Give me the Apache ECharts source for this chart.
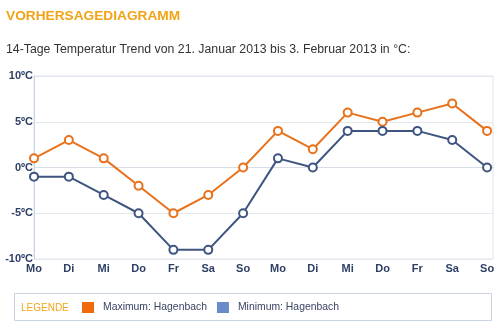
<!DOCTYPE html>
<html>
<head>
<meta charset="utf-8">
<script src="https://cdn.jsdelivr.net/npm/echarts@6/dist/echarts.min.js"></script>
<style>
html,body{margin:0;padding:0;background:#fff;}
#chart{width:500px;height:324px;}
</style>
</head>
<body>
<div id="chart"></div>
<script>
// 14-day forecast: daily max / min temperatures (°C)
const dayLabels = ['Mo','Di','Mi','Do','Fr','Sa','So','Mo','Di','Mi','Do','Fr','Sa','So'];
const maxTemps = [1, 3, 1, -2, -5, -3, 0, 4, 2, 6, 5, 6, 7, 4];
const minTemps = [-1, -1, -3, -5, -9, -9, -5, 1, 0, 4, 4, 4, 3, 0];
const yTicks = [-10, -5, 0, 5, 10];

const FONT = '"Liberation Sans", Arial, sans-serif';
const ORANGE = '#e8721c';
const NAVY = '#3e5580';

const chart = echarts.init(document.getElementById('chart'), null, {renderer: 'canvas'});

const toPairs = arr => arr.map((v, i) => [i, v]);

chart.setOption({
  animation: false,
  backgroundColor: '#fff',
  textStyle: {fontFamily: FONT},
  title: [{
    text: 'VORHERSAGEDIAGRAMM',
    left: 1, top: 4,
    textStyle: {fontSize: 13.7, fontWeight: 'bold', color: '#f0a416', fontFamily: FONT}
  }, {
    text: '14-Tage Temperatur Trend von 21. Januar 2013 bis 3. Februar 2013 in °C:',
    left: 1, top: 39,
    textStyle: {fontSize: 12.3, fontWeight: 'normal', color: '#333', fontFamily: FONT}
  }],
  graphic: [{
    type: 'rect',
    shape: {x: 14.5, y: 293.5, width: 477, height: 27},
    style: {fill: '#fff', stroke: '#c9d3e3', lineWidth: 1},
    z: 0
  }, {
    type: 'text',
    x: 21, y: 308,
    style: {text: 'LEGENDE', fill: '#f0a416', font: '10px ' + FONT, verticalAlign: 'middle'},
    z: 1
  }],
  legend: {
    left: 82, top: 302,
    icon: 'rect',
    itemWidth: 12, itemHeight: 11,
    itemGap: 10,
    padding: 0,
    textStyle: {fontSize: 10.4, color: '#3b4463', fontFamily: FONT, padding: [0, 0, 0, 4]},
    data: [
      {name: 'Maximum: Hagenbach', itemStyle: {color: '#f26a0c', borderWidth: 0}},
      {name: 'Minimum: Hagenbach', itemStyle: {color: '#6a8bc9', borderWidth: 0}}
    ]
  },
  grid: {
    left: 34, right: 7, top: 76, bottom: 65,
    show: true, borderColor: '#dde3ec', borderWidth: 1
  },
  xAxis: {
    type: 'value',
    min: 0, max: 13.17, interval: 1,
    axisLine: {show: true, lineStyle: {color: '#d9dee6'}},
    axisTick: {show: false},
    splitLine: {show: false},
    axisLabel: {
      margin: 4,
      color: '#2e3f66', fontSize: 11, fontWeight: 'bold', fontFamily: FONT,
      showMaxLabel: false,
      formatter: v => (Number.isInteger(v) && dayLabels[v] !== undefined) ? dayLabels[v] : ''
    }
  },
  yAxis: {
    type: 'value',
    min: yTicks[0], max: yTicks[yTicks.length - 1], interval: 5,
    axisLine: {show: true, lineStyle: {color: '#c8d3e6'}},
    axisTick: {show: false},
    axisLabel: {
      margin: 1,
      color: '#2e3f66', fontSize: 11, fontWeight: 'bold', fontFamily: FONT,
      formatter: v => v + 'ºC'
    },
    splitLine: {
      show: true,
      lineStyle: {color: ['#e3e7ee', '#e3e7ee', '#a9bbdb', '#e3e7ee', '#e3e7ee'], width: 1}
    }
  },
  series: [{
    name: 'Maximum: Hagenbach',
    type: 'line',
    data: toPairs(maxTemps),
    symbol: 'circle', symbolSize: 8,
    lineStyle: {color: ORANGE, width: 2},
    itemStyle: {color: '#fff', borderColor: ORANGE, borderWidth: 2},
    z: 3
  }, {
    name: 'Minimum: Hagenbach',
    type: 'line',
    data: toPairs(minTemps),
    symbol: 'circle', symbolSize: 8,
    lineStyle: {color: NAVY, width: 2},
    itemStyle: {color: '#fff', borderColor: NAVY, borderWidth: 2},
    z: 3
  }]
});
</script>
</body>
</html>
